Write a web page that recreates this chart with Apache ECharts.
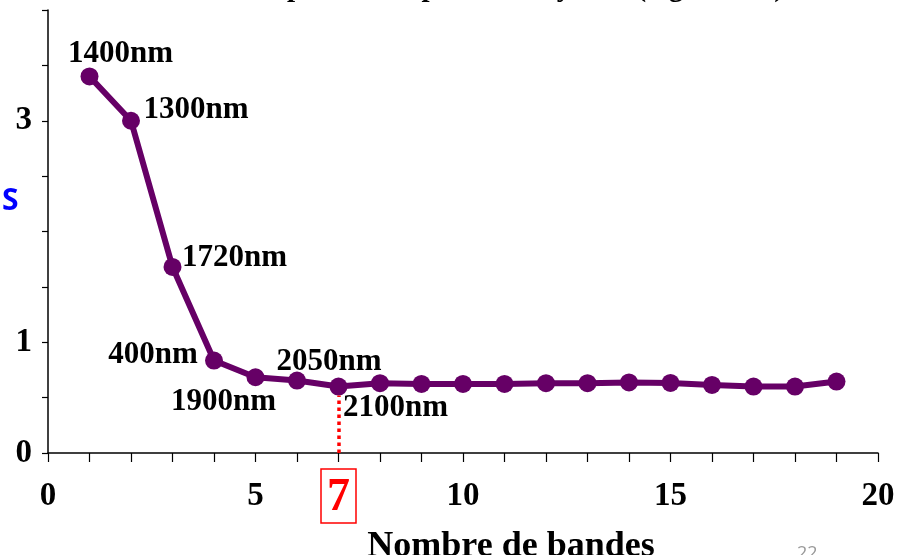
<!DOCTYPE html>
<html>
<head>
<meta charset="utf-8">
<script src="https://cdn.jsdelivr.net/npm/echarts@6/dist/echarts.min.js"></script>
<style>
    html, body { margin: 0; padding: 0; background: #fff; }
    #chart { width: 900px; height: 555px; }
</style>
</head>
<body>
<div id="chart"></div>
<script>
// nombre de bandes -> erreur
const bandCounts = [1, 2, 3, 4, 5, 6, 7, 8, 9, 10, 11, 12, 13, 14, 15, 16, 17, 18, 19]
const errorValues = [3.40, 3.00, 1.68, 0.835, 0.684, 0.654, 0.60, 0.63, 0.624, 0.624, 0.624, 0.63, 0.63, 0.637, 0.633, 0.615, 0.60, 0.60, 0.645]
// bande ajoutée a chaque etape
const bandNames = ['1400nm', '1300nm', '1720nm', '400nm', '1900nm', '2050nm', '2100nm']
const yLabelsShown = [0, 1, 3]
const xLabelsShown = [0, 5, 7, 10, 15, 20]
const optimalCount = 7

const serif = '"Liberation Serif", "Times New Roman", serif'
// decalage des etiquettes par rapport au point
const labelOffsets = [[31, -22], [65, -11], [62, -9], [-61, -6], [-32, 25], [32, -19], [57, 21]]

const chart = echarts.init(document.getElementById('chart'))

const seriesData = bandCounts.map((n, i) => {
    const item = { value: [n, errorValues[i]] }
    if (i < bandNames.length) {
        item.label = {
            show: true,
            formatter: bandNames[i],
            position: 'inside',
            offset: labelOffsets[i]
        }
    }
    return item
})

chart.setOption({
    animation: false,
    grid: {
        left: 48,
        right: 22,
        top: 10,
        bottom: 102,
        outerBoundsMode: 'none',
        containLabel: false
    },
    xAxis: {
        type: 'value',
        min: 0,
        max: 20,
        interval: 1,
        splitLine: { show: false },
        axisLine: { show: true, onZero: false, lineStyle: { color: '#000', width: 1.5 } },
        axisTick: { show: true, inside: false, length: 9, lineStyle: { color: '#000', width: 1.2 } },
        axisLabel: {
            margin: 43,
            verticalAlign: 'middle',
            color: '#000',
            fontFamily: serif,
            fontWeight: 'bold',
            fontSize: 33,
            formatter: v => {
                if (v === optimalCount) return '{r|' + v + '}'
                return xLabelsShown.includes(v) ? String(v) : ''
            },
            rich: {
                r: {
                    color: '#ff0000',
                    fontFamily: serif,
                    fontWeight: 'bold',
                    fontSize: 46,
                    borderColor: '#ff0000',
                    borderWidth: 1.5,
                    padding: [6, 6, 2, 6]
                }
            }
        },
        name: 'Nombre de bandes',
        nameLocation: 'middle',
        nameGap: 76,
        nameTextStyle: {
            color: '#000',
            fontFamily: serif,
            fontWeight: 'bold',
            fontSize: 36,
            padding: [0, 0, 0, 96]
        }
    },
    yAxis: {
        type: 'value',
        min: 0,
        max: 4,
        interval: 0.5,
        splitLine: { show: false },
        axisLine: { show: true, lineStyle: { color: '#000', width: 1.5 } },
        axisTick: { show: true, length: 6, lineStyle: { color: '#000', width: 1.2 } },
        axisLabel: {
            margin: 16,
            color: '#000',
            fontFamily: serif,
            fontWeight: 'bold',
            fontSize: 33,
            formatter: v => yLabelsShown.includes(v) ? String(v) : ''
        }
    },
    series: [{
        type: 'line',
        data: seriesData,
        symbol: 'circle',
        symbolSize: 18,
        color: '#660066',
        lineStyle: { width: 6, color: '#660066' },
        itemStyle: { color: '#660066' },
        label: {
            color: '#000',
            fontFamily: serif,
            fontWeight: 'bold',
            fontSize: 31
        },
        markLine: {
            silent: true,
            symbol: 'none',
            label: { show: false },
            lineStyle: { color: '#ff0000', type: 'dotted', width: 3.5 },
            data: [[
                { coord: [optimalCount, 0] },
                { coord: [optimalCount, errorValues[optimalCount - 1] - 0.08] }
            ]]
        }
    }],
    graphic: [
        {
            // titre coupé en haut
            type: 'text',
            left: 157,
            top: -26,
            style: {
                text: 'Erreur de prédiction pour la moyenne (log RMSE)',
                fill: '#000',
                font: 'bold 29px ' + serif
            }
        },
        {
            type: 'text',
            left: 2,
            top: 186,
            style: {
                text: 'S',
                fill: '#0000ff',
                font: 'bold 30px "Open Sans", "DejaVu Sans", sans-serif'
            }
        },
        {
            type: 'text',
            left: 797,
            top: 545,
            style: {
                text: '22',
                fill: '#999',
                font: '18px "Open Sans", sans-serif'
            }
        }
    ]
})
</script>
</body>
</html>
